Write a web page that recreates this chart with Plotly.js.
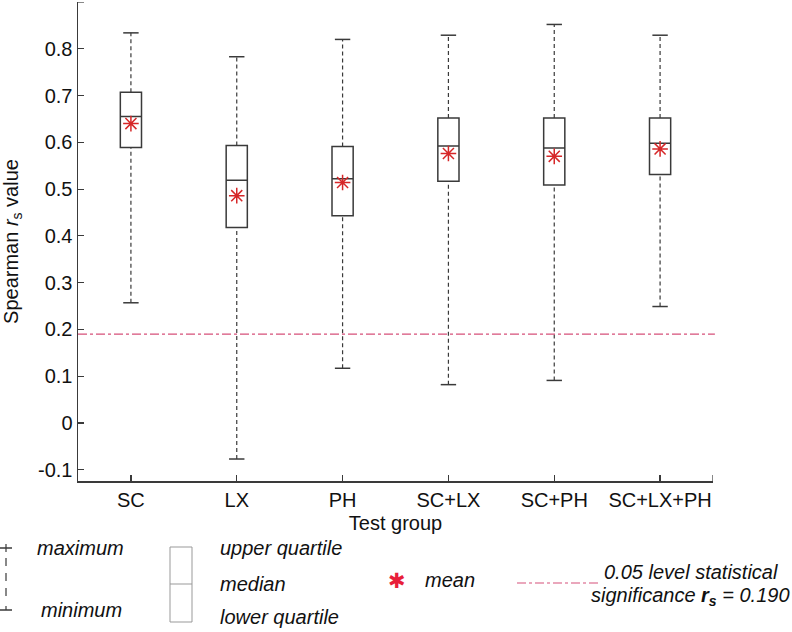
<!DOCTYPE html>
<html>
<head>
<meta charset="utf-8">
<script src="https://cdn.plot.ly/plotly-3.0.1.min.js"></script>
<style>html,body{margin:0;padding:0;background:#fff;}#chart{width:792px;height:632px;}</style>
</head>
<body>
<div id="chart"></div>
<script>
// ---- data ----
var groups   = ['SC', 'LX', 'PH', 'SC+LX', 'SC+PH', 'SC+LX+PH'];
var maxVals  = [0.834, 0.783, 0.820, 0.829, 0.852, 0.829];
var q3Vals   = [0.707, 0.593, 0.591, 0.652, 0.652, 0.652];
var medVals  = [0.655, 0.519, 0.522, 0.592, 0.588, 0.598];
var meanVals = [0.640, 0.486, 0.514, 0.576, 0.570, 0.586];
var q1Vals   = [0.589, 0.418, 0.443, 0.517, 0.509, 0.531];
var minVals  = [0.257, -0.077, 0.117, 0.082, 0.091, 0.249];
var sigLevel = 0.190;
var yTicks   = [-0.1, 0, 0.1, 0.2, 0.3, 0.4, 0.5, 0.6, 0.7, 0.8];
var yTickText = ['-0.1', '0', '0.1', '0.2', '0.3', '0.4', '0.5', '0.6', '0.7', '0.8'];
var yTop = 0.9;

var dark = '#3a3a3a';
var red = 'rgb(232,30,58)';
var sigColor = 'rgb(214,80,122)';
var FONT = 'Liberation Sans, Arial, Helvetica, sans-serif';
var FS = 20;

// whisker segments
var wx = [], wy = [];
groups.forEach(function (g, i) {
  wx.push(g, g, null, g, g, null);
  wy.push(q3Vals[i], maxVals[i], null, minVals[i], q1Vals[i], null);
});

var traces = [
  {
    type: 'scatter', mode: 'lines', x: wx, y: wy,
    line: {color: dark, width: 1.2, dash: '4px,3px'},
    hoverinfo: 'skip', showlegend: false
  },
  {
    type: 'box', x: groups, q1: q1Vals, median: medVals, q3: q3Vals,
    lowerfence: q1Vals, upperfence: q3Vals,
    width: 0.2, boxpoints: false,
    line: {color: dark, width: 1.5}, fillcolor: 'rgba(255,255,255,1)',
    whiskerwidth: 0, showlegend: false
  },
  {
    type: 'scatter', mode: 'markers', x: groups.concat(groups), y: maxVals.concat(minVals),
    marker: {symbol: 'line-ew', size: 11, line: {color: dark, width: 1.5}},
    hoverinfo: 'skip', showlegend: false
  },
  {
    type: 'scatter', mode: 'markers', x: groups, y: meanVals,
    marker: {symbol: 'asterisk-open', size: 13, line: {color: red, width: 1.5}},
    showlegend: false
  }
];

// legend helpers (pixel -> paper)
var L = 78, R = 713, T = 2, B = 481;
function px(x) { return (x - L) / (R - L); }
function py(y) { return (B - y) / (B - T); }
function seg(x0, y0, x1, y1, color, width, dash) {
  return {type: 'line', xref: 'paper', yref: 'paper', x0: px(x0), y0: py(y0), x1: px(x1), y1: py(y1),
          line: {color: color, width: width, dash: dash || 'solid'}};
}
function txt(x, y, text, xanchor, opts) {
  opts = opts || {};
  return {xref: 'paper', yref: 'paper', x: px(x), y: py(y), text: text, showarrow: false,
          xanchor: xanchor, yanchor: 'middle',
          font: {family: opts.family || FONT, size: opts.size || FS, color: opts.color || '#111'}};
}

var shapes = [
  {type: 'line', xref: 'paper', yref: 'y', x0: 0, x1: 1.003, y0: sigLevel, y1: sigLevel,
   line: {color: sigColor, width: 1.2, dash: 'dashdot'}},
  // end ticks
  {type: 'line', xref: 'x', yref: 'paper', x0: 5.5, x1: 5.5, y0: 0, y1: 6 / 479,
   line: {color: dark, width: 1.2}},
  {type: 'line', xref: 'paper', yref: 'y', x0: 0, x1: 6 / 635, y0: yTop, y1: yTop,
   line: {color: dark, width: 1.2}},
  // whisker legend
  seg(0, 548, 12, 548, dark, 1.5),
  seg(6, 544, 6, 552, dark, 1.2),
  seg(6, 558, 6, 602, dark, 1.2, '8px,7px'),
  seg(6, 606, 6, 610, dark, 1.2),
  seg(0, 610, 12, 610, dark, 1.5),
  // box legend
  {type: 'rect', xref: 'paper', yref: 'paper', x0: px(170), x1: px(192), y0: py(622), y1: py(547),
   line: {color: '#999', width: 1}},
  seg(170, 584, 192, 584, '#999', 1),
  // significance legend line
  seg(517, 583, 600, 583, sigColor, 1.2, 'dashdot')
];

var annotations = [
  txt(35, 548, '<i>maximum</i>', 'left'),
  txt(39, 610, '<i>minimum</i>', 'left'),
  txt(218, 548, '<i>upper quartile</i>', 'left'),
  txt(218, 584, '<i>median</i>', 'left'),
  txt(218, 617, '<i>lower quartile</i>', 'left'),
  txt(397, 581, '✱', 'center', {family: 'DejaVu Sans', size: 21, color: red}),
  txt(423, 580, '<i>mean</i>', 'left'),
  txt(691, 572, '<i>0.05 level statistical</i>', 'center'),
  txt(690, 596, '<i>significance <b>r<sub>s</sub></b> = 0.190</i>', 'center')
];

var layout = {
  width: 792, height: 632,
  margin: {l: L, r: 792 - R, t: T, b: 632 - B},
  paper_bgcolor: '#fff', plot_bgcolor: '#fff',
  font: {family: FONT, size: FS, color: '#111'},
  showlegend: false,
  xaxis: {
    type: 'category', range: [-0.5, 5.5],
    showline: true, linecolor: dark, linewidth: 1.5, mirror: false,
    ticks: 'inside', ticklen: 6, tickcolor: dark, tickwidth: 1.2,
    showgrid: false, zeroline: false,
    tickfont: {size: FS, color: '#111'},
    title: {text: 'Test group', font: {size: FS, color: '#111'}, standoff: 6}
  },
  yaxis: {
    range: [-0.124, yTop],
    tickvals: yTicks, ticktext: yTickText,
    showline: true, linecolor: dark, linewidth: 1.5, mirror: false,
    ticks: 'inside', ticklen: 6, tickcolor: dark, tickwidth: 1.2,
    showgrid: false, zeroline: false,
    tickfont: {size: FS, color: '#111'},
    title: {text: 'Spearman <i>r</i><sub>s</sub> value', font: {size: FS, color: '#111'}, standoff: 14}
  },
  shapes: shapes,
  annotations: annotations
};

Plotly.newPlot('chart', traces, layout, {displayModeBar: false, staticPlot: true});
</script>
</body>
</html>
